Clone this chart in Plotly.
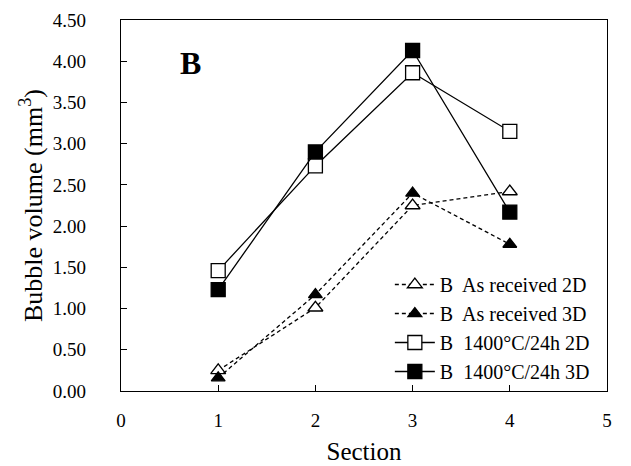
import plotly.graph_objects as go

# Bubble volume per section for sample B
sections = [1, 2, 3, 4]
as_received_2d = [0.25, 1.01, 2.25, 2.42]
as_received_3d = [0.16, 1.17, 2.40, 1.78]
annealed_2d = [1.46, 2.73, 3.86, 3.15]
annealed_3d = [1.23, 2.90, 4.13, 2.17]

series_names = [
    "B  As received 2D",
    "B  As received 3D",
    "B  1400°C/24h 2D",
    "B  1400°C/24h 3D",
]
y_ticks = [0, 0.5, 1.0, 1.5, 2.0, 2.5, 3.0, 3.5, 4.0, 4.5]
x_ticks = [0, 1, 2, 3, 4, 5]

FONT = "Liberation Serif, Times New Roman, serif"

fig = go.Figure()

# (values, symbol, fill, dash, size)
styles = [
    (as_received_2d, "triangle-up", "white", "4px,3px", 13),
    (as_received_3d, "triangle-up", "black", "4px,3px", 12),
    (annealed_2d, "square", "white", "solid", 14),
    (annealed_3d, "square", "black", "solid", 14),
]
for name, (vals, sym, fill, dash, size) in zip(series_names, styles):
    fig.add_trace(go.Scatter(
        x=sections, y=vals, name=name, mode="lines+markers",
        line=dict(color="black", width=1.3, dash=dash),
        marker=dict(symbol=sym, size=size, color=fill,
                    line=dict(color="black", width=1.3)),
    ))

fig.add_annotation(x=0.117, y=0.885, xref="paper", yref="paper", text="<b>B</b>",
                   showarrow=False, font=dict(family=FONT, size=32, color="black"),
                   xanchor="left", yanchor="middle")

fig.update_layout(
    width=631, height=466,
    margin=dict(l=121, r=24, t=20, b=75),
    paper_bgcolor="white", plot_bgcolor="white",
    font=dict(family=FONT, size=19, color="black"),
    showlegend=True,
    legend=dict(x=0.975, y=0.0, xanchor="right", yanchor="bottom",
                bgcolor="rgba(0,0,0,0)", font=dict(family=FONT, size=20),
                tracegroupgap=0, itemwidth=40),
    xaxis=dict(range=[0, 5], tickvals=x_ticks, ticks="inside", ticklen=6,
               tickcolor="black", showline=True, linecolor="black", linewidth=1.3,
               mirror=True, showgrid=False, zeroline=False, ticklabelstandoff=12,
               automargin=False,
               title=dict(text="Section", font=dict(family=FONT, size=25), standoff=12),
               tickfont=dict(family=FONT, size=19)),
    yaxis=dict(range=[0, 4.5], tickvals=y_ticks, tickformat=".2f", ticks="inside",
               ticklen=6, tickcolor="black", showline=True, linecolor="black",
               linewidth=1.3, mirror=True, showgrid=False, zeroline=False,
               ticklabelstandoff=30, automargin=False,
               title=dict(text="Bubble volume (mm<sup>3</sup>)",
                          font=dict(family=FONT, size=26), standoff=2),
               tickfont=dict(family=FONT, size=19)),
)

fig.write_html("out.html")
